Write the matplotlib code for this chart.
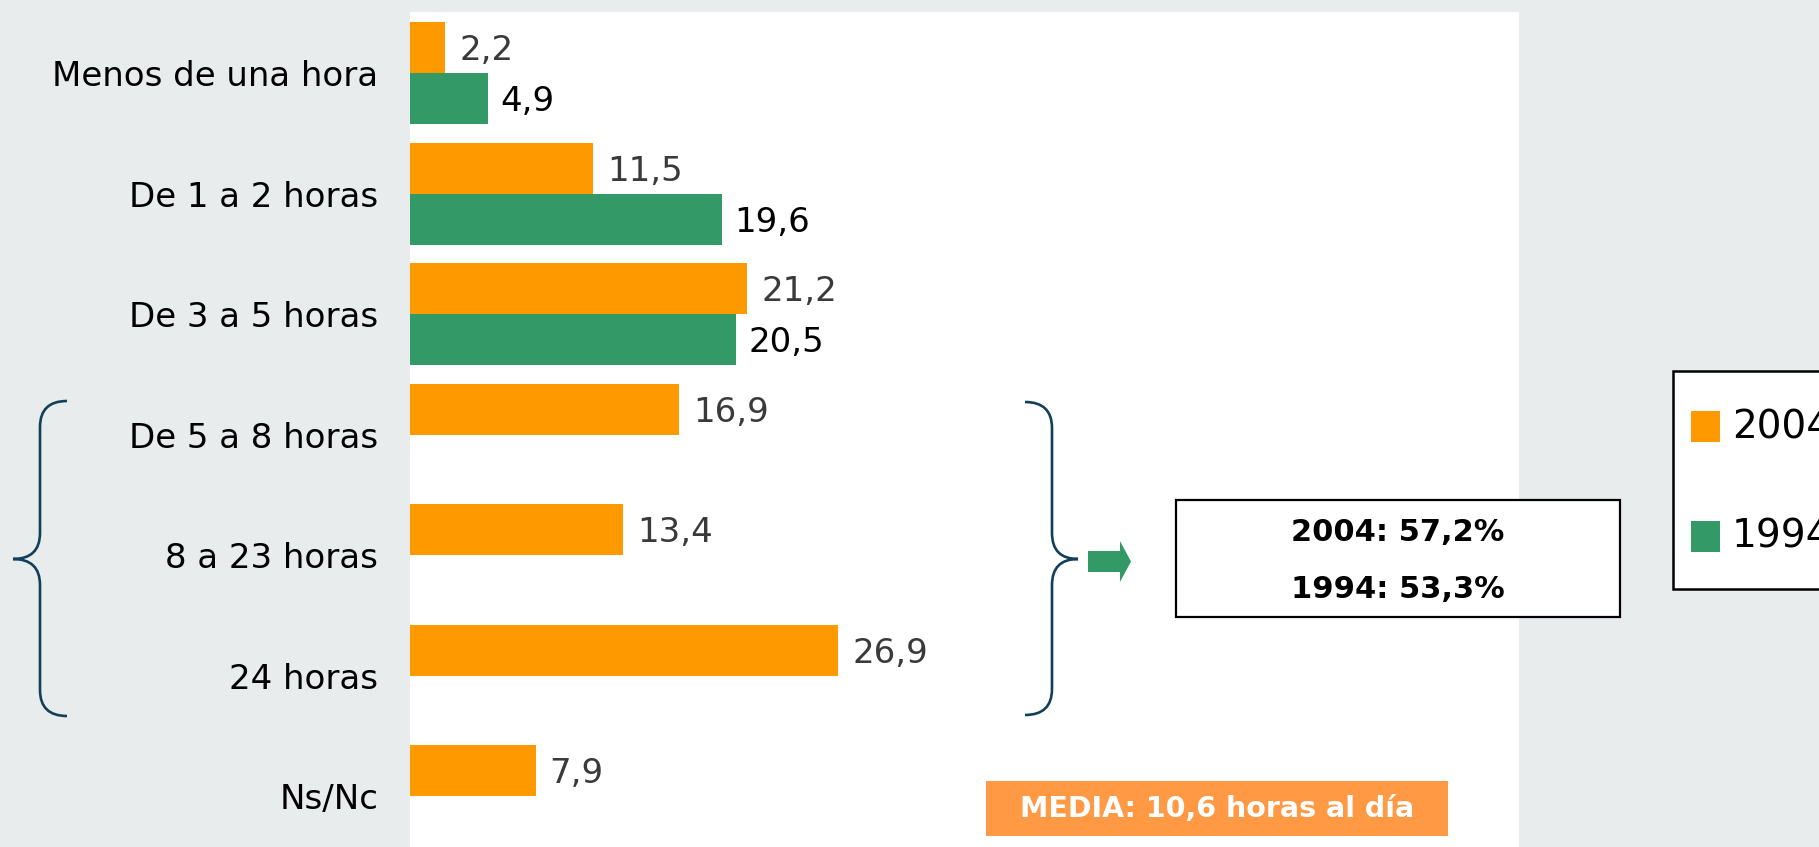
import numpy as np
import matplotlib
matplotlib.use("Agg")
import matplotlib.pyplot as plt
from matplotlib.patches import Rectangle, Polygon, PathPatch
from matplotlib.path import Path

# Datos
categorias = ["Menos de una hora", "De 1 a 2 horas", "De 3 a 5 horas",
              "De 5 a 8 horas", "8 a 23 horas", "24 horas", "Ns/Nc"]
valores_2004 = [2.2, 11.5, 21.2, 16.9, 13.4, 26.9, 7.9]
valores_1994 = [4.9, 19.6, 20.5, None, None, None, None]
series = ["2004", "1994"]
resumen = ["2004: 57,2%", "1994: 53,3%"]
media = "MEDIA: 10,6 horas al día"

# Colores
NARANJA = "#ff9900"
VERDE = "#339966"
GRIS = "#e8eced"
AZUL = "#123f5a"
NARANJA_MEDIA = "#ff9944"

W, H = 1819, 847


def fx(px):
    return px / W


def fy(py):
    return 1 - py / H


def formato(v):
    return f"{v:.1f}".replace(".", ",")


fig = plt.figure(figsize=(W / 100, H / 100), dpi=100, facecolor=GRIS)
ax = fig.add_axes([fx(410), 0, 1109 / W, 835 / H])
ax.set_facecolor("white")

h = 0.423
y = np.arange(len(categorias))
ax.barh(y - h / 2, valores_2004, height=h, color=NARANJA)
idx94 = [i for i, v in enumerate(valores_1994) if v is not None]
v94 = [valores_1994[i] for i in idx94]
ax.barh(np.array(idx94) + h / 2, v94, height=h, color=VERDE)

for i, v in enumerate(valores_2004):
    ax.annotate(formato(v), xy=(v, i - h / 2), xytext=(14, -3),
                textcoords="offset pixels", va="center", ha="left",
                fontsize=24.5, color="#3a3a3a")
for i, v in zip(idx94, v94):
    ax.annotate(formato(v), xy=(v, i + h / 2), xytext=(12, -3),
                textcoords="offset pixels", va="center", ha="left",
                fontsize=24.5, color="black")

ax.set_xlim(0, 69.7)
ax.set_ylim(6.42, -0.506)
ax.set_xticks([])
ax.set_yticks(y)
ax.set_yticklabels(categorias, fontsize=24.5)
ax.tick_params(axis="y", length=0, pad=23)
for s in ax.spines.values():
    s.set_visible(False)


# Llaves
def llave(x_end, x_line, x_tip, y_top, y_mid, y_bot, r=26):
    pts = [(x_end, y_top), (x_line, y_top), (x_line, y_top + r),
           (x_line, y_mid - r), (x_line, y_mid), (x_tip, y_mid),
           (x_line, y_mid), (x_line, y_mid + r),
           (x_line, y_bot - r), (x_line, y_bot), (x_end, y_bot)]
    codes = [Path.MOVETO, Path.CURVE3, Path.CURVE3,
             Path.LINETO, Path.CURVE3, Path.CURVE3,
             Path.CURVE3, Path.CURVE3,
             Path.LINETO, Path.CURVE3, Path.CURVE3]
    path = Path([(fx(a), fy(b)) for a, b in pts], codes)
    fig.patches.append(PathPatch(path, transform=fig.transFigure, fill=False,
                                 edgecolor=AZUL, lw=1.9))


llave(67, 40, 13, 401, 559, 716)
llave(1025, 1052, 1078, 402, 559, 715)

# Flecha
flecha = [(1088, 551), (1120, 551), (1120, 541), (1131, 561.5),
          (1120, 582), (1120, 572), (1088, 572)]
fig.patches.append(Polygon([(fx(a), fy(b)) for a, b in flecha], closed=True,
                           transform=fig.transFigure, color=VERDE, lw=0))

# Caja resumen
fig.patches.append(Rectangle((fx(1176), fy(617)), fx(1620) - fx(1176), (617 - 500) / H,
                             transform=fig.transFigure, facecolor="white",
                             edgecolor="black", lw=1.6))
for t, py in zip(resumen, [532, 590]):
    fig.text(fx(1398), fy(py), t, ha="center", va="center", fontsize=22,
             fontweight="bold", color="black")

# Caja media
fig.patches.append(Rectangle((fx(986), fy(836)), fx(1448) - fx(986), (836 - 781) / H,
                             transform=fig.transFigure, facecolor=NARANJA_MEDIA,
                             edgecolor="none"))
fig.text(fx(1217), fy(809), media, ha="center", va="center", fontsize=20.5,
         fontweight="bold", color="white")

# Leyenda (cortada por el borde derecho, como en el original)
fig.patches.append(Rectangle((fx(1673), fy(589)), fx(1830) - fx(1673), (589 - 371) / H,
                             transform=fig.transFigure, facecolor="white",
                             edgecolor="black", lw=1.8))
for nombre, color, py in zip(series, [NARANJA, VERDE], [427, 536]):
    fig.patches.append(Rectangle((fx(1691), fy(py + 15.5)), 29 / W, 31 / H,
                                 transform=fig.transFigure, facecolor=color,
                                 edgecolor="none"))
    fig.text(fx(1732), fy(py), nombre, ha="left", va="center", fontsize=28,
             color="black")

fig.savefig("out.png", dpi=100, facecolor=fig.get_facecolor())
